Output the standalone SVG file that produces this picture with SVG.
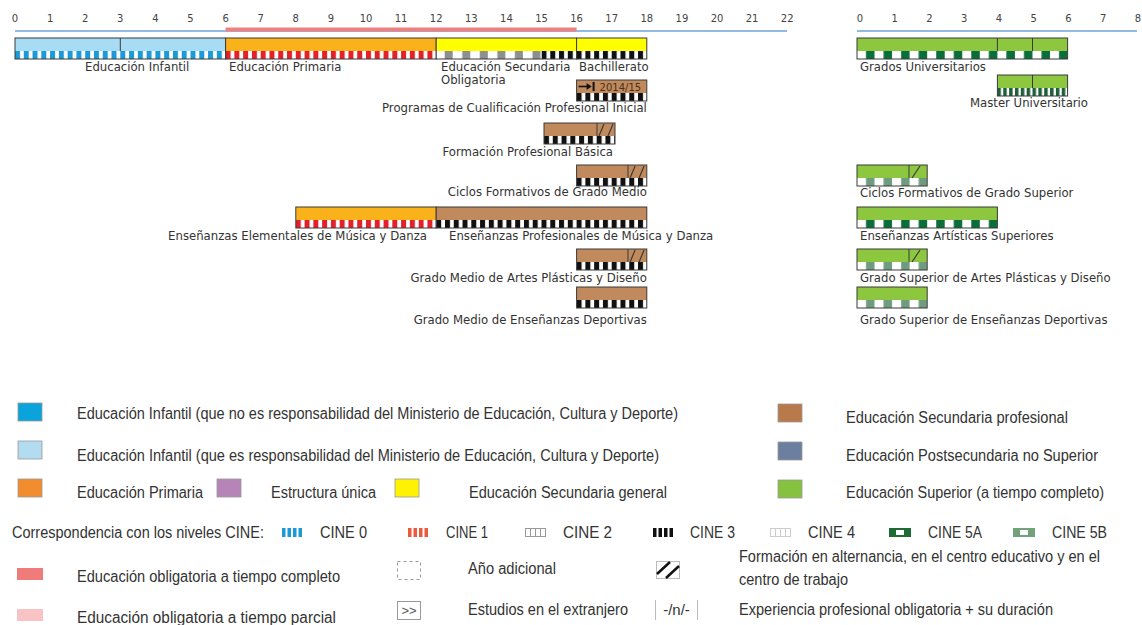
<svg xmlns="http://www.w3.org/2000/svg" width="1142" height="625" viewBox="0 0 1142 625">
<style>
.tk{font-family:"DejaVu Sans",Verdana,sans-serif;font-size:10px;fill:#444;text-anchor:middle}
.lb{font-family:"DejaVu Sans",Verdana,sans-serif;font-size:11.7px;fill:#333}
.end{text-anchor:end}
.lg{font-family:"Liberation Sans Narrow","Arial Narrow","Liberation Sans",Arial,sans-serif;font-size:16px;fill:#333}
.bo{fill:none;stroke:#3a3a3a;stroke-width:1}
.dv{stroke:#3a3a3a;stroke-width:1}
.ht{stroke:#3a3a3a;stroke-width:1.2}
.inf{fill:#a8dbf4}
.pri{fill:#f9b21a}
.sec{fill:#ffff00}
.pro{fill:#c08a5d}
.sup{fill:#8dc63f}
.sw{stroke:#9a9a9a;stroke-width:0.8}
</style>
<defs>
<pattern id="c0" patternUnits="userSpaceOnUse" width="8.775" height="8"><rect width="8.775" height="8" fill="#fff"/><rect width="5" height="8" fill="#1b9ad6"/></pattern>
<pattern id="c1" patternUnits="userSpaceOnUse" width="8.775" height="8"><rect width="8.775" height="8" fill="#fff"/><rect width="5" height="8" fill="#e4202a"/></pattern>
<pattern id="c2" patternUnits="userSpaceOnUse" width="17.55" height="8"><rect width="17.55" height="8" fill="#fff"/><rect x="8.5" width="8" height="8" fill="#8f8f8f"/></pattern>
<pattern id="c3" patternUnits="userSpaceOnUse" width="8.775" height="8"><rect width="8.775" height="8" fill="#fff"/><rect width="5" height="8" fill="#111"/></pattern>
<pattern id="c5a" patternUnits="userSpaceOnUse" width="17.55" height="8"><rect width="17.55" height="8" fill="#fff"/><rect x="9" width="8.5" height="8" fill="#0b6d3a"/></pattern>
<pattern id="c5b" patternUnits="userSpaceOnUse" width="17.55" height="8"><rect width="17.55" height="8" fill="#fff"/><rect x="9" width="8.5" height="8" fill="#6f9c7e"/></pattern>
<pattern id="cm" patternUnits="userSpaceOnUse" width="5.85" height="8"><rect width="5.85" height="8" fill="#fff"/><rect width="3.5" height="8" fill="#1d5f3a"/></pattern>
</defs>
<rect width="1142" height="625" fill="#fff"/>

<g id="axis">
<g class="tk">
<text x="15" y="22">0</text><text x="50.1" y="22">1</text><text x="85.2" y="22">2</text><text x="120.3" y="22">3</text><text x="155.4" y="22">4</text><text x="190.5" y="22">5</text><text x="225.6" y="22">6</text><text x="260.7" y="22">7</text><text x="295.8" y="22">8</text><text x="330.9" y="22">9</text><text x="366" y="22">10</text><text x="401.1" y="22">11</text><text x="436.2" y="22">12</text><text x="471.3" y="22">13</text><text x="506.4" y="22">14</text><text x="541.5" y="22">15</text><text x="576.6" y="22">16</text><text x="611.7" y="22">17</text><text x="646.8" y="22">18</text><text x="681.9" y="22">19</text><text x="717" y="22">20</text><text x="752.1" y="22">21</text><text x="787.2" y="22">22</text>
<text x="860" y="22">0</text><text x="894.8" y="22">1</text><text x="929.5" y="22">2</text><text x="964.3" y="22">3</text><text x="999" y="22">4</text><text x="1033.8" y="22">5</text><text x="1068.5" y="22">6</text><text x="1103.3" y="22">7</text><text x="1138" y="22">8</text>
</g>
<line x1="15" y1="31" x2="787" y2="31" stroke="#6fa3d8" stroke-width="1.5"/>
<line x1="225.6" y1="29.5" x2="576.6" y2="29.5" stroke="#f08080" stroke-width="4"/>
<line x1="857" y1="31" x2="1137" y2="31" stroke="#6fa3d8" stroke-width="1.5"/>
</g>

<g id="n-infantil" transform="translate(15,38)">
<rect class="inf" width="210.6" height="13"/><rect y="13" width="210.6" height="8" fill="url(#c0)"/>
<line class="dv" x1="105.3" y1="0" x2="105.3" y2="13"/><rect class="bo" width="210.6" height="21"/>
<text class="lb" x="70" y="33">Educación Infantil</text>
</g>
<g id="n-primaria" transform="translate(225.6,38)">
<rect class="pri" width="210.6" height="13"/><rect y="13" width="210.6" height="8" fill="url(#c1)"/>
<rect class="bo" width="210.6" height="21"/>
<text class="lb" x="3.4" y="33">Educación Primaria</text>
</g>
<g id="n-eso" transform="translate(436.2,38)">
<rect class="sec" width="140.4" height="13"/><rect y="13" width="105.3" height="8" fill="url(#c2)"/><rect x="105.3" y="13" width="35.1" height="8" fill="url(#c3)"/>
<rect class="bo" width="140.4" height="21"/>
<text class="lb" x="4.8" y="33">Educación Secundaria</text>
<text class="lb" x="4.8" y="46">Obligatoria</text>
</g>
<g id="n-bachillerato" transform="translate(576.6,38)">
<rect class="sec" width="70.2" height="13"/><rect y="13" width="70.2" height="8" fill="url(#c3)"/>
<rect class="bo" width="70.2" height="21"/>
<text class="lb" x="2.4" y="33">Bachillerato</text>
</g>
<g id="n-pcpi" transform="translate(576.6,80)">
<rect class="pro" width="70.2" height="13"/><rect y="13" width="70.2" height="8" fill="url(#c3)"/>
<rect class="bo" width="70.2" height="21"/>
<line x1="2" y1="6.5" x2="11" y2="6.5" stroke="#111" stroke-width="1.6"/>
<polygon points="10,3 15,6.5 10,10" fill="#111"/>
<line x1="17" y1="2" x2="17" y2="11" stroke="#111" stroke-width="2"/>
<text x="23" y="10.5" style="font-family:'DejaVu Sans',Verdana,sans-serif;font-size:10px;fill:#4a3018">2014/15</text>
<text class="lb end" x="70.2" y="32">Programas de Cualificación Profesional Inicial</text>
</g>
<g id="n-fpbasica" transform="translate(544,123)">
<rect class="pro" width="71" height="13"/><rect y="13" width="71" height="8" fill="url(#c3)"/>
<line class="dv" x1="53" y1="0" x2="53" y2="13"/>
<line class="ht" x1="55" y1="13" x2="60" y2="1"/><line class="ht" x1="64" y1="13" x2="69" y2="1"/>
<rect class="bo" width="71" height="21"/>
<text class="lb end" x="69" y="33">Formación Profesional Básica</text>
</g>
<g id="n-cfgm" transform="translate(576.6,165)">
<rect class="pro" width="70.2" height="13"/><rect y="13" width="70.2" height="8" fill="url(#c3)"/>
<line class="dv" x1="51.4" y1="0" x2="51.4" y2="13"/>
<line class="ht" x1="53.5" y1="13" x2="58.5" y2="1"/><line class="ht" x1="62.5" y1="13" x2="67.5" y2="1"/>
<rect class="bo" width="70.2" height="21"/>
<text class="lb end" x="70.2" y="31">Ciclos Formativos de Grado Medio</text>
</g>
<g id="n-eemd" transform="translate(295.8,207)">
<rect class="pri" width="140.4" height="13"/><rect y="13" width="140.4" height="8" fill="url(#c1)"/>
<rect class="bo" width="140.4" height="21"/>
<text class="lb end" x="131.2" y="33">Enseñanzas Elementales de Música y Danza</text>
</g>
<g id="n-epmd" transform="translate(436.2,207)">
<rect class="pro" width="210.6" height="13"/><rect y="13" width="210.6" height="8" fill="url(#c3)"/>
<rect class="bo" width="210.6" height="21"/>
<text class="lb" x="12.8" y="33">Enseñanzas Profesionales de Música y Danza</text>
</g>
<g id="n-gmap" transform="translate(576.6,249)">
<rect class="pro" width="70.2" height="13"/><rect y="13" width="70.2" height="8" fill="url(#c3)"/>
<line class="dv" x1="51.4" y1="0" x2="51.4" y2="13"/>
<line class="ht" x1="53.5" y1="13" x2="58.5" y2="1"/><line class="ht" x1="62.5" y1="13" x2="67.5" y2="1"/>
<rect class="bo" width="70.2" height="21"/>
<text class="lb end" x="70.2" y="33">Grado Medio de Artes Plásticas y Diseño</text>
</g>
<g id="n-gmd" transform="translate(576.6,287)">
<rect class="pro" width="70.2" height="13"/><rect y="13" width="70.2" height="8" fill="url(#c3)"/>
<rect class="bo" width="70.2" height="21"/>
<text class="lb end" x="70.2" y="37">Grado Medio de Enseñanzas Deportivas</text>
</g>

<g id="n-grados" transform="translate(857,38)">
<rect class="sup" width="210.6" height="13"/><rect y="13" width="210.6" height="8" fill="url(#c5a)"/>
<line class="dv" x1="140.4" y1="0" x2="140.4" y2="13"/><line class="dv" x1="175.5" y1="0" x2="175.5" y2="13"/>
<rect class="bo" width="210.6" height="21"/>
<text class="lb" x="3" y="33">Grados Universitarios</text>
</g>
<g id="n-master" transform="translate(997.4,75)">
<rect class="sup" width="70.2" height="13"/><rect y="13" width="70.2" height="8" fill="url(#cm)"/>
<line class="dv" x1="35.1" y1="0" x2="35.1" y2="13"/>
<rect class="bo" width="70.2" height="21"/>
<text class="lb end" x="90.6" y="32">Master Universitario</text>
</g>
<g id="n-cfgs" transform="translate(857,165)">
<rect class="sup" width="70.2" height="13"/><rect y="13" width="70.2" height="8" fill="url(#c5b)"/>
<line class="dv" x1="52" y1="0" x2="52" y2="13"/><line class="ht" x1="55" y1="13" x2="63" y2="1"/>
<rect class="bo" width="70.2" height="21"/>
<text class="lb" x="3" y="32">Ciclos Formativos de Grado Superior</text>
</g>
<g id="n-eas" transform="translate(857,207)">
<rect class="sup" width="140.4" height="13"/><rect y="13" width="140.4" height="8" fill="url(#c5a)"/>
<rect class="bo" width="140.4" height="21"/>
<text class="lb" x="3" y="33">Enseñanzas Artísticas Superiores</text>
</g>
<g id="n-gsap" transform="translate(857,249)">
<rect class="sup" width="70.2" height="13"/><rect y="13" width="70.2" height="8" fill="url(#c5b)"/>
<line class="dv" x1="52" y1="0" x2="52" y2="13"/><line class="ht" x1="55" y1="13" x2="63" y2="1"/>
<rect class="bo" width="70.2" height="21"/>
<text class="lb" x="3" y="33">Grado Superior de Artes Plásticas y Diseño</text>
</g>
<g id="n-gsd" transform="translate(857,287)">
<rect class="sup" width="70.2" height="13"/><rect y="13" width="70.2" height="8" fill="url(#c5b)"/>
<rect class="bo" width="70.2" height="21"/>
<text class="lb" x="3" y="37">Grado Superior de Enseñanzas Deportivas</text>
</g>

<g id="legend">
<rect class="sw" x="18" y="403" width="24" height="18" fill="#0aa3db"/>
<text class="lg" x="77" y="419" textLength="601" lengthAdjust="spacingAndGlyphs">Educación Infantil (que no es responsabilidad del Ministerio de Educación, Cultura y Deporte)</text>
<rect class="sw" x="18" y="441" width="24" height="18" fill="#b3dcf1"/>
<text class="lg" x="77" y="461" textLength="582" lengthAdjust="spacingAndGlyphs">Educación Infantil (que es responsabilidad del Ministerio de Educación, Cultura y Deporte)</text>
<rect class="sw" x="18" y="479" width="24" height="18" fill="#f28d2e"/>
<text class="lg" x="77" y="498" textLength="126" lengthAdjust="spacingAndGlyphs">Educación Primaria</text>
<rect class="sw" x="217" y="479" width="24" height="18" fill="#b784b8"/>
<text class="lg" x="271" y="498" textLength="105" lengthAdjust="spacingAndGlyphs">Estructura única</text>
<rect class="sw" x="395" y="479" width="24" height="18" fill="#fff200"/>
<text class="lg" x="469" y="498" textLength="198" lengthAdjust="spacingAndGlyphs">Educación Secundaria general</text>
<rect class="sw" x="778" y="404" width="24" height="18" fill="#b87a4b"/>
<text class="lg" x="846" y="423" textLength="222" lengthAdjust="spacingAndGlyphs">Educación Secundaria profesional</text>
<rect class="sw" x="778" y="442" width="24" height="18" fill="#6d7fa0"/>
<text class="lg" x="846" y="461" textLength="252" lengthAdjust="spacingAndGlyphs">Educación Postsecundaria no Superior</text>
<rect class="sw" x="778" y="480" width="24" height="18" fill="#86c23f"/>
<text class="lg" x="846" y="498" textLength="258" lengthAdjust="spacingAndGlyphs">Educación Superior (a tiempo completo)</text>

<text class="lg" x="12" y="538" textLength="252" lengthAdjust="spacingAndGlyphs">Correspondencia con los niveles CINE:</text>
<g transform="translate(282,528)" fill="#1b9ad6"><rect width="3.5" height="9"/><rect x="5.5" width="3.5" height="9"/><rect x="11" width="3.5" height="9"/><rect x="16.5" width="3.5" height="9"/></g>
<text class="lg" x="320" y="538" textLength="47" lengthAdjust="spacingAndGlyphs">CINE 0</text>
<g transform="translate(408,528)" fill="#ec5a3c"><rect width="3.5" height="9"/><rect x="5.5" width="3.5" height="9"/><rect x="11" width="3.5" height="9"/><rect x="16.5" width="3.5" height="9"/></g>
<text class="lg" x="446" y="538" textLength="42" lengthAdjust="spacingAndGlyphs">CINE 1</text>
<g transform="translate(525,528)" fill="none" stroke="#999" stroke-width="1"><rect x="0.5" y="0.5" width="20" height="8"/><line x1="5.5" y1="0.5" x2="5.5" y2="8.5"/><line x1="10.5" y1="0.5" x2="10.5" y2="8.5"/><line x1="15.5" y1="0.5" x2="15.5" y2="8.5"/></g>
<text class="lg" x="563" y="538" textLength="49" lengthAdjust="spacingAndGlyphs">CINE 2</text>
<g transform="translate(653,528)" fill="#111"><rect width="3.5" height="9"/><rect x="5.5" width="3.5" height="9"/><rect x="11" width="3.5" height="9"/><rect x="16.5" width="3.5" height="9"/></g>
<text class="lg" x="690" y="538" textLength="45" lengthAdjust="spacingAndGlyphs">CINE 3</text>
<g transform="translate(770,528)" fill="none" stroke="#ccc" stroke-width="1"><rect x="0.5" y="0.5" width="20" height="8"/><line x1="5.5" y1="0.5" x2="5.5" y2="8.5"/><line x1="10.5" y1="0.5" x2="10.5" y2="8.5"/><line x1="15.5" y1="0.5" x2="15.5" y2="8.5"/></g>
<text class="lg" x="808" y="538" textLength="47" lengthAdjust="spacingAndGlyphs">CINE 4</text>
<g transform="translate(889,528)"><rect width="22" height="9" fill="#1e6b35"/><rect x="7" y="2" width="8" height="5" fill="#fff"/></g>
<text class="lg" x="928" y="538" textLength="54" lengthAdjust="spacingAndGlyphs">CINE 5A</text>
<g transform="translate(1013,528)"><rect width="22" height="9" fill="#72a27a"/><rect x="7" y="2" width="8" height="5" fill="#fff"/></g>
<text class="lg" x="1052" y="538" textLength="55" lengthAdjust="spacingAndGlyphs">CINE 5B</text>

<rect x="17" y="568" width="26" height="12" fill="#f07b7b"/>
<text class="lg" x="77" y="582" textLength="263" lengthAdjust="spacingAndGlyphs">Educación obligatoria a tiempo completo</text>
<rect x="397.5" y="561.5" width="23" height="18" fill="none" stroke="#999" stroke-width="1" stroke-dasharray="3,3"/>
<text class="lg" x="468" y="574" textLength="88" lengthAdjust="spacingAndGlyphs">Año adicional</text>
<rect x="656.5" y="561.5" width="23" height="17" fill="#fff" stroke="#bbb" stroke-width="1"/>
<line x1="657" y1="574" x2="670" y2="562" stroke="#111" stroke-width="2.5"/>
<line x1="666" y1="578" x2="679" y2="566" stroke="#111" stroke-width="2.5"/>
<text class="lg" x="739" y="562" textLength="361" lengthAdjust="spacingAndGlyphs">Formación en alternancia, en el centro educativo y en el</text>
<text class="lg" x="739" y="585" textLength="109" lengthAdjust="spacingAndGlyphs">centro de trabajo</text>

<rect x="17" y="609" width="26" height="12" fill="#f9c3c6"/>
<text class="lg" x="77" y="623" textLength="259" lengthAdjust="spacingAndGlyphs">Educación obligatoria a tiempo parcial</text>
<rect x="397.5" y="601.5" width="23" height="18" fill="none" stroke="#999" stroke-width="1"/>
<text x="409" y="615" text-anchor="middle" style="font-family:'Liberation Sans',Arial,sans-serif;font-size:13px;fill:#555">&gt;&gt;</text>
<text class="lg" x="468" y="615" textLength="160" lengthAdjust="spacingAndGlyphs">Estudios en el extranjero</text>
<line x1="655.5" y1="600" x2="655.5" y2="620" stroke="#bbb" stroke-width="1"/>
<line x1="697.5" y1="600" x2="697.5" y2="620" stroke="#bbb" stroke-width="1"/>
<text x="676.5" y="615" text-anchor="middle" style="font-family:'Liberation Sans',Arial,sans-serif;font-size:15px;fill:#333">-/n/-</text>
<text class="lg" x="739" y="615" textLength="314" lengthAdjust="spacingAndGlyphs">Experiencia profesional obligatoria + su duración</text>
</g>
</svg>
